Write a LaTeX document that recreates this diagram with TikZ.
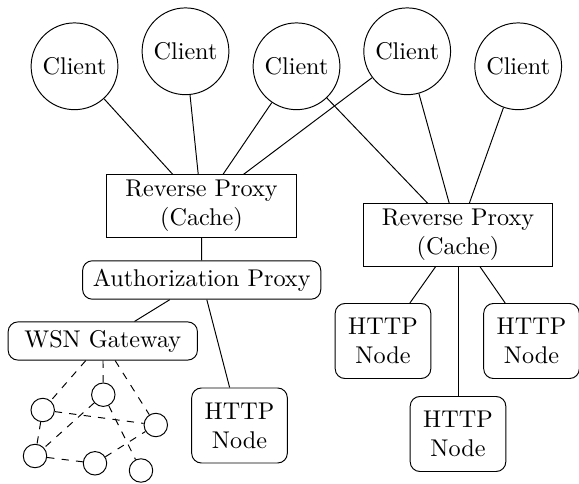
\documentclass[tikz,border=0pt]{standalone}
\begin{document}
\begin{tikzpicture}[x=0.41322pt,y=-0.41322pt,
  client/.style={draw,circle,inner sep=3.333pt},
  proxybox/.style={draw,align=center,minimum width=78.2pt,minimum height=25.7pt,inner sep=2pt},
  rbox/.style={draw,rounded corners,minimum height=15.1pt,inner sep=3.333pt},
  httpbox/.style={draw,rounded corners,align=center,minimum width=39.5pt,minimum height=31pt,inner sep=2pt},
  sensor/.style={draw,circle,minimum size=9.7pt,inner sep=0pt},
  wlink/.style={dashed}]
\useasboundingbox (0,0) rectangle (579,484);
% clients
\node[client] (c1) at (74.5,66.3) {Client};
\node[client] (c2) at (185.5,51.3) {Client};
\node[client] (c3) at (296.5,66.3) {Client};
\node[client] (c4) at (407.2,51.3) {Client};
\node[client] (c5) at (518.2,66.3) {Client};
% proxies
\node[proxybox] (rpl) at (201.5,206) {Reverse Proxy\\(Cache)};
\node[proxybox] (rpr) at (458,235) {Reverse Proxy\\(Cache)};
\node[rbox,minimum width=98.4pt] (auth) at (201.7,280) {Authorization Proxy};
\node[rbox,minimum width=78.2pt] (wsn) at (102.8,341) {WSN Gateway};
% http nodes
\node[httpbox] (h0) at (239.5,425.5) {HTTP\\Node};
\node[httpbox] (ha) at (383,341) {HTTP\\Node};
\node[httpbox] (hb) at (531.5,341) {HTTP\\Node};
\node[httpbox] (hc) at (458,434) {HTTP\\Node};
% sensors
\node[sensor] (s1) at (42.7,410) {};
\node[sensor] (s2) at (103.3,394.7) {};
\node[sensor] (s3) at (155.8,425) {};
\node[sensor] (s4) at (35,456) {};
\node[sensor] (s5) at (95,463.3) {};
\node[sensor] (s6) at (141,470.5) {};
% connectors
\draw (c1) -- (rpl);
\draw (c2) -- (rpl);
\draw (c3) -- (rpl);
\draw (c4) -- (rpl);
\draw (c3) -- (rpr);
\draw (c4) -- (rpr);
\draw (c5) -- (rpr);
\draw (rpl) -- (auth);
\draw (auth) -- (wsn);
\draw (auth) -- (h0);
\draw (rpr) -- (ha);
\draw (rpr) -- (hb);
\draw (rpr) -- (hc);
% sensor links
\draw[wlink] (wsn) -- (s1);
\draw[wlink] (wsn) -- (s2);
\draw[wlink] (wsn) -- (s3);
\draw[wlink] (s1) -- (s3);
\draw[wlink] (s1) -- (s4);
\draw[wlink] (s2) -- (s4);
\draw[wlink] (s2) -- (s6);
\draw[wlink] (s4) -- (s5);
\draw[wlink] (s5) -- (s3);
\end{tikzpicture}
\end{document}
